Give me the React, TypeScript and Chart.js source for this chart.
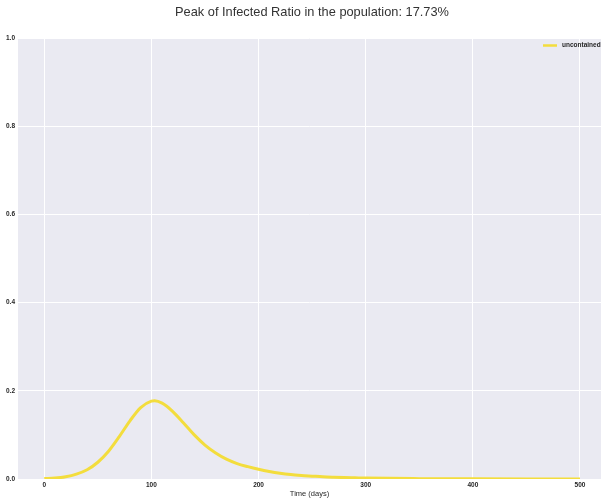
import React, { useEffect, useRef } from "react";
import { Chart, registerables } from "chart.js";

Chart.register(...registerables);

const TITLE = "Peak of Infected Ratio in the population: 17.73%";
const X_LABEL = "Time (days)";
const SERIES_LABEL = "uncontained";

const DAYS = [
  0, 10, 20, 30, 40, 50, 60, 70, 80, 90, 100, 103, 110, 120, 130, 140, 150,
  160, 170, 180, 190, 200, 210, 220, 230, 240, 250, 260, 270, 280, 290, 300,
  350, 400, 450, 500,
];
const INFECTED = [
  0.001, 0.002, 0.005, 0.011, 0.021, 0.038, 0.063, 0.096, 0.132, 0.162, 0.1765,
  0.1773, 0.172, 0.153, 0.127, 0.1, 0.077, 0.059, 0.045, 0.035, 0.028, 0.022,
  0.017, 0.013, 0.01, 0.008, 0.0065, 0.005, 0.004, 0.0032, 0.0026, 0.002,
  0.0008, 0.0003, 0.0001, 0.00005,
];
const X_TICKS = [0, 100, 200, 300, 400, 500];
const Y_TICKS = [0, 0.2, 0.4, 0.6, 0.8, 1.0];

const FONT = "'Liberation Sans', Arial, sans-serif";
const LINE_COLOR = "#f3dd3d";
const TEXT_COLOR = "#262626";
const TITLE_COLOR = "#333333";

export default function App() {
  const ref = useRef<HTMLCanvasElement>(null);

  useEffect(() => {
    document.body.style.margin = "0";
    const bgPlugin = {
      id: "bgPlugin",
      beforeDraw(chart: any) {
        const { ctx, chartArea } = chart;
        ctx.save();
        ctx.fillStyle = "#eaeaf2";
        ctx.fillRect(chartArea.left, chartArea.top, chartArea.right - chartArea.left, chartArea.bottom - chartArea.top);
        ctx.restore();
      },
    };
    const textPlugin = {
      id: "textPlugin",
      afterDraw(chart: any) {
        const { ctx, chartArea } = chart;
        ctx.save();
        // title (figure-centred, figure extends a little past the right edge)
        ctx.fillStyle = TITLE_COLOR;
        ctx.font = `normal 12.8px ${FONT}`;
        ctx.textAlign = "center";
        ctx.textBaseline = "alphabetic";
        ctx.fillText(TITLE, 312, 16);
        // legend
        const x0 = chartArea.right - 58;
        const y0 = chartArea.top + 7.5;
        ctx.strokeStyle = LINE_COLOR;
        ctx.lineWidth = 2.5;
        ctx.beginPath();
        ctx.moveTo(x0, y0);
        ctx.lineTo(x0 + 14, y0);
        ctx.stroke();
        ctx.fillStyle = TEXT_COLOR;
        ctx.font = `bold 6.5px ${FONT}`;
        ctx.textBaseline = "middle";
        ctx.textAlign = "left";
        ctx.fillText(SERIES_LABEL, x0 + 19, y0);
        ctx.restore();
      },
    };

    const chart = new Chart(ref.current as HTMLCanvasElement, {
      type: "line",
      data: {
        datasets: [
          {
            label: SERIES_LABEL,
            data: DAYS.map((d, i) => ({ x: d, y: INFECTED[i] })),
            borderColor: LINE_COLOR,
            backgroundColor: LINE_COLOR,
            borderWidth: 3,
            pointRadius: 0,
            cubicInterpolationMode: "monotone",
            fill: false,
          },
        ],
      },
      options: {
        responsive: false,
        animation: false,
        devicePixelRatio: 1,
        layout: { padding: { left: 0, right: 1, top: 38, bottom: 0 } },
        plugins: {
          legend: { display: false },
          tooltip: { enabled: false },
          title: { display: false },
        },
        scales: {
          x: {
            type: "linear",
            min: -24.5,
            max: 519.6,
            afterBuildTicks: (s: any) => {
              s.ticks = X_TICKS.map((v) => ({ value: v }));
            },
            afterFit: (s: any) => {
              s.height = 19;
            },
            grid: { color: "#ffffff", lineWidth: 1, drawTicks: false },
            border: { display: false },
            ticks: {
              color: TEXT_COLOR,
              font: { family: FONT, size: 6.5, weight: "bold" },
              padding: 2,
              maxRotation: 0,
              callback: (v: any) => String(v),
            },
            title: {
              display: true,
              text: X_LABEL,
              color: TEXT_COLOR,
              font: { family: FONT, size: 7.5, weight: "normal" },
              padding: { top: 0, bottom: 0 },
            },
          },
          y: {
            type: "linear",
            min: 0,
            max: 1,
            afterBuildTicks: (s: any) => {
              s.ticks = Y_TICKS.map((v) => ({ value: v }));
            },
            afterFit: (s: any) => {
              s.width = 18;
            },
            grid: { color: "#ffffff", lineWidth: 1, drawTicks: false },
            border: { display: false },
            ticks: {
              color: TEXT_COLOR,
              font: { family: FONT, size: 6.5, weight: "bold" },
              padding: 3,
              callback: (v: any) => Number(v).toFixed(1),
            },
          },
        },
      },
      plugins: [bgPlugin, textPlugin],
    });
    return () => chart.destroy();
  }, []);

  return (
    <div style={{ position: "absolute", left: 0, top: 0, width: 602, height: 498 }}>
      <canvas ref={ref} width={602} height={498} style={{ display: "block" }} />
    </div>
  );
}
